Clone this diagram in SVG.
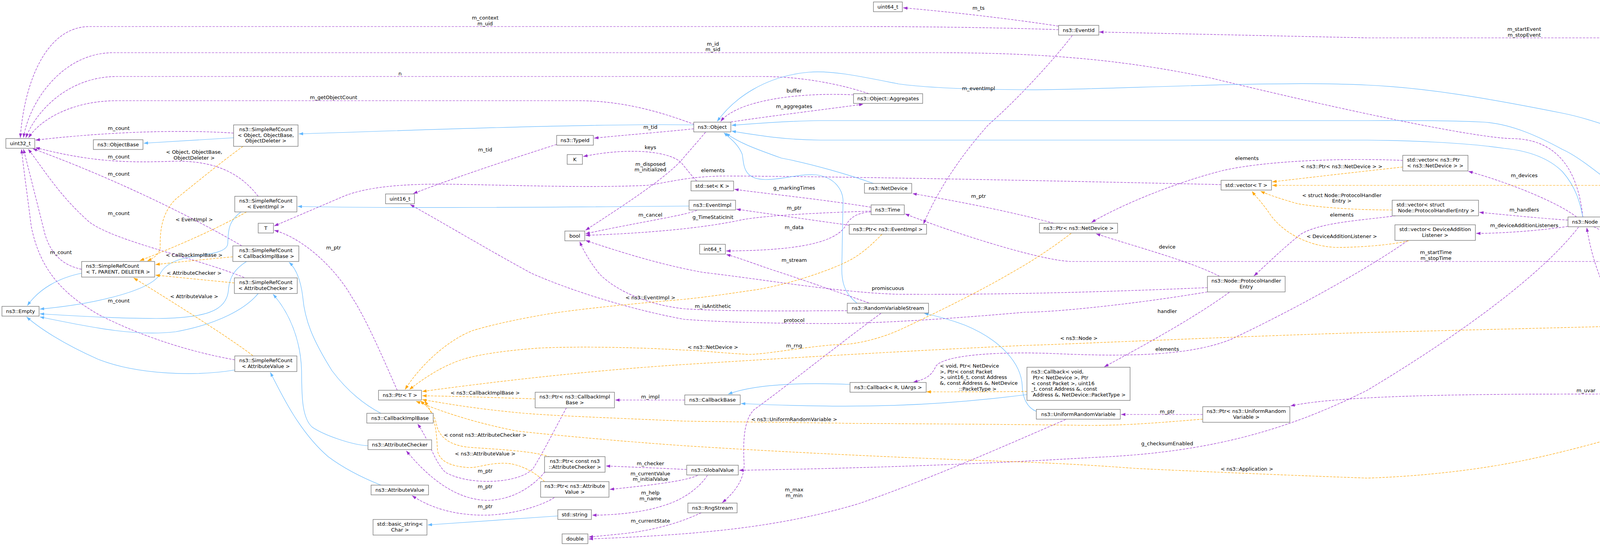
<svg xmlns="http://www.w3.org/2000/svg" width="5245" height="1399" viewBox="0 0 5245 1399">
<style>
text{font-family:"DejaVu Sans","Liberation Sans",sans-serif;font-size:13px;fill:#000}
.c{text-anchor:middle}
.node rect{fill:#fff;stroke:#666;stroke-width:1.2}
.node.hl rect{fill:#999}
.e path{fill:none;stroke-width:1.2}
.p{stroke:#9a32cd;stroke-dasharray:6,3}
.b{stroke:#63b8ff}
.o{stroke:#ffa500;stroke-dasharray:6,3}
</style>
<defs>
<marker id="ap" markerUnits="userSpaceOnUse" markerWidth="11" markerHeight="8" viewBox="0 0 11 8" refX="11" refY="4" orient="auto"><path d="M0,0 L11,4 L0,8 z" fill="#9a32cd"/></marker>
<marker id="ab" markerUnits="userSpaceOnUse" markerWidth="11" markerHeight="8" viewBox="0 0 11 8" refX="11" refY="4" orient="auto"><path d="M0,0 L11,4 L0,8 z" fill="#63b8ff"/></marker>
<marker id="ao" markerUnits="userSpaceOnUse" markerWidth="11" markerHeight="8" viewBox="0 0 11 8" refX="11" refY="4" orient="auto"><path d="M0,0 L11,4 L0,8 z" fill="#ffa500"/></marker>
</defs>
<rect width="5245" height="1399" fill="#fff"/>
<g id="connectors" class="e">
<g marker-end="url(#ap)">
<path class="p" d="M2710,76 C2600,72 2400,68 2200,68 L230,68 C110,68 60,230 52,353"/>
<path class="p" d="M4052,556 C4040,440 3990,356 3870,355 C3790,354 3500,297 3100,200 C2900,158 2700,135 2400,135 L290,135 C160,135 75,260 60,353"/>
<path class="p" d="M2224,240 C2150,215 2050,196 1950,196 L300,196 C170,196 90,290 66,353"/>
<path class="p" d="M1778,319 C1700,290 1600,258 1480,258 L300,258 C180,258 100,310 73,353"/>
<path class="p" d="M598,341 C480,333 300,335 91,359"/>
<path class="p" d="M661,503 C620,450 560,412 450,413 C350,416 250,420 91,378"/>
<path class="p" d="M619,630 C500,560 300,460 84,381"/>
<path class="p" d="M625,711 C500,660 300,620 230,570 C150,500 110,430 72,382"/>
<path class="p" d="M209,690 C160,680 130,650 115,600 C95,520 75,440 60,382"/>
<path class="p" d="M601,922 C450,895 330,845 260,810 C150,750 100,680 80,580 C70,500 60,430 55,382"/>
<path class="p" d="M1776,330 C1700,338 1600,346 1521,354"/>
<path class="p" d="M1425,370 C1300,410 1150,460 1058,496"/>
<path class="p" d="M1784,464 C1770,450 1755,430 1745,418 C1720,390 1620,375 1493,401"/>
<path class="p" d="M1806,339 C1780,370 1760,392 1745,410 C1700,460 1590,530 1499,590"/>
<path class="p" d="M1784,539 C1750,553 1620,572 1499,599"/>
<path class="p" d="M2230,541 C2100,545 1960,552 1900,563 C1800,585 1650,598 1499,603"/>
<path class="p" d="M3091,737 C2900,745 2600,756 2300,754 C2150,750 1950,715 1800,698 C1700,680 1600,650 1499,616"/>
<path class="p" d="M2169,796 C2000,797 1850,798 1750,791 C1650,780 1570,740 1533,700 C1510,670 1495,645 1484,619"/>
<path class="p" d="M3091,748 C2900,780 2700,800 2625,800 C2450,815 2250,830 2100,829 C1900,828 1800,822 1750,818 C1600,790 1450,740 1360,700 C1250,640 1150,580 1050,524"/>
<path class="p" d="M2224,776 C2150,750 2050,715 1973,690 C1920,672 1890,660 1859,652"/>
<path class="p" d="M2230,543 C2190,545 2175,560 2165,578 C2140,620 2050,642 1859,643"/>
<path class="p" d="M2230,531 C2100,510 1950,495 1880,485"/>
<path class="p" d="M2174,577 C2050,560 1950,545 1885,536"/>
<path class="p" d="M4524,670 L2740,670 C2660,666 2450,600 2317,548"/>
<path class="p" d="M2697,572 C2600,545 2450,515 2336,496"/>
<path class="p" d="M2745,91 C2700,150 2610,250 2530,320 C2450,410 2395,500 2364,574"/>
<path class="p" d="M4585,657 C4575,550 4560,420 4540,340 C4510,220 4470,140 4400,105 C4360,97 4330,97 4300,97 L3500,97 L2814,82"/>
<path class="p" d="M2710,67 C2600,50 2450,32 2312,20"/>
<path class="p" d="M1862,314 C1950,300 2100,282 2210,267"/>
<path class="p" d="M2185,243 C2080,238 1970,248 1900,275 C1870,288 1855,298 1845,311"/>
<path class="p" d="M3591,411 C3450,405 3250,410 3130,437 C3000,470 2860,530 2794,570"/>
<path class="p" d="M3573,553 C3480,565 3380,570 3330,600 C3280,640 3240,680 3210,707"/>
<path class="p" d="M3603,617 C3500,690 3300,800 3150,870 C3050,910 2900,915 2700,906 C2550,900 2410,910 2395,940 C2385,962 2370,972 2338,979"/>
<path class="p" d="M3147,749 C3050,820 2900,900 2827,940"/>
<path class="p" d="M3122,708 C3050,670 2900,630 2806,599"/>
<path class="p" d="M4036,556 C3990,520 3870,470 3759,439"/>
<path class="p" d="M4014,564 C3950,560 3850,550 3787,544"/>
<path class="p" d="M4014,580 C3950,590 3850,598 3779,598"/>
<path class="p" d="M4222,820 C4170,800 4120,770 4100,720 C4080,670 4070,630 4062,583"/>
<path class="p" d="M4514,833 L4386,833"/>
<path class="p" d="M4562,683 C4520,720 4430,770 4328,819"/>
<path class="p" d="M4080,581 C4200,640 4300,700 4420,725 C4550,752 4800,752 5067,705"/>
<path class="p" d="M4751,679 L4652,673"/>
<path class="p" d="M5069,684 L4957,684"/>
<path class="p" d="M4574,846 C4540,900 4470,960 4400,990 C4360,1005 4320,1009 4290,1009 L3900,1010 C3600,1012 3400,1020 3304,1040"/>
<path class="p" d="M3079,1062 L2870,1062"/>
<path class="p" d="M2728,1075 C2600,1130 2400,1220 2200,1290 C2000,1350 1800,1370 1507,1381"/>
<path class="p" d="M1795,1314 C1760,1330 1700,1355 1600,1367 C1560,1371 1530,1374 1507,1376"/>
<path class="p" d="M2255,803 C2150,880 2000,1000 1930,1050 C1900,1080 1903,1150 1905,1190 C1905,1230 1880,1262 1849,1288"/>
<path class="p" d="M4041,582 C3950,700 3750,850 3500,1000 C3300,1100 3100,1160 2800,1172 C2500,1190 2200,1200 1892,1205"/>
<path class="p" d="M1758,1203 C1700,1200 1600,1196 1551,1194"/>
<path class="p" d="M1786,1218 C1760,1230 1700,1240 1561,1254"/>
<path class="p" d="M1811,1218 C1790,1250 1750,1280 1700,1295 C1650,1312 1580,1320 1516,1320"/>
<path class="p" d="M1450,1045 C1420,1100 1390,1160 1365,1200 C1330,1240 1200,1245 1140,1210 C1110,1180 1100,1130 1069,1086"/>
<path class="p" d="M1395,1209 C1370,1240 1320,1280 1250,1282 C1180,1282 1110,1240 1040,1155"/>
<path class="p" d="M1419,1275 C1380,1300 1300,1320 1240,1320 C1160,1320 1100,1300 1055,1270"/>
<path class="p" d="M1753,1025 L1575,1025"/>
<path class="p" d="M1017,1000 C990,940 940,820 900,760 C860,690 780,612 702,590"/>
<path class="p" d="M3126,473 C2900,468 2200,452 1860,451 C1760,451 1700,470 1656,475 C1500,482 1300,474 1150,472 C1000,470 920,485 875,505 L702,579"/>
</g>
<g marker-end="url(#ab)">
<path class="b" d="M598,353 L368,367"/>
<path class="b" d="M1776,320 C1500,316 1000,336 765,343"/>
<path class="b" d="M1764,528 C1400,531 1000,534 762,529"/>
<path class="b" d="M209,700 C150,712 100,740 70,783"/>
<path class="b" d="M617,543 C580,570 585,600 583,625 C580,650 520,652 480,660 C430,670 415,690 408,705 C380,745 250,778 102,792"/>
<path class="b" d="M631,670 C600,690 588,710 585,740 C582,800 520,815 400,816 C300,816 200,810 102,804"/>
<path class="b" d="M661,752 C630,790 560,830 450,850 C350,862 250,842 102,812"/>
<path class="b" d="M601,948 C500,965 350,960 250,920 C160,880 100,840 68,812"/>
<path class="b" d="M975,1059 C920,1030 880,990 850,950 C800,870 780,820 775,760 C770,720 760,690 740,672"/>
<path class="b" d="M942,1142 C900,1140 830,1115 800,1095 C770,1070 773,1000 772,950 C770,870 740,800 699,754"/>
<path class="b" d="M975,1243 C930,1225 880,1200 840,1170 C770,1110 725,1020 692,954"/>
<path class="b" d="M1428,1322 L1095,1345"/>
<path class="b" d="M2176,985 C2050,980 1930,985 1864,1010"/>
<path class="b" d="M2629,1011 C2400,1040 2200,1048 1897,1034"/>
<path class="b" d="M2653,1054 C2630,1045 2618,1020 2617,990 C2615,930 2560,870 2470,833 C2430,818 2400,810 2366,803"/>
<path class="b" d="M2194,777 C2160,750 2155,720 2155,690 L2158,520 C2160,490 2140,455 2090,448 C2040,445 2010,460 1960,460 C1900,460 1905,420 1900,395 C1890,370 1870,355 1853,340"/>
<path class="b" d="M2236,470 C2180,450 2080,420 2000,405 C1930,380 1890,365 1858,341"/>
<path class="b" d="M4576,657 C4540,580 4470,480 4375,433 C4250,370 4100,310 4000,290 C3800,250 3650,225 3500,218 C3250,205 2800,232 2625,230 C2450,229 2350,222 2300,215 C2200,195 2130,180 2070,185 C1960,195 1880,250 1836,311"/>
<path class="b" d="M4554,820 C4500,790 4420,740 4375,700 C4300,630 4200,530 4170,504 C4100,450 4040,400 4000,383 C3940,350 3870,318 3800,313 C3700,308 3600,309 3500,309 L2100,309 C2000,310 1920,318 1873,321"/>
<path class="b" d="M4052,556 C4045,520 4035,480 4000,440 C3960,400 3900,385 3850,380 C3750,365 3600,360 3500,359 L2100,359 C2000,358 1930,345 1873,336"/>
</g>
<g marker-end="url(#ao)">
<path class="o" d="M622,375 C560,420 500,470 450,510 C410,550 410,600 410,635 C408,652 392,662 377,669"/>
<path class="o" d="M631,543 C550,590 430,640 358,668"/>
<path class="o" d="M596,658 C520,665 450,672 398,678"/>
<path class="o" d="M600,725 C520,717 450,710 398,705"/>
<path class="o" d="M647,911 C580,860 420,760 342,712"/>
<path class="o" d="M2258,600 C2220,640 2190,660 2169,670 C2120,695 2000,735 1917,745 C1850,755 1800,762 1750,767 C1600,780 1450,795 1377,809 C1300,823 1250,835 1210,847 C1150,870 1080,930 1037,998"/>
<path class="o" d="M2742,598 C2700,630 2650,665 2587,700 C2520,740 2400,800 2308,843 C2250,870 2180,885 2140,883 C2050,890 1960,908 1917,908 C1850,905 1800,898 1750,897 C1600,888 1450,888 1377,892 C1300,898 1250,905 1210,914 C1160,925 1110,950 1048,998"/>
<path class="o" d="M4217,834 L3500,852 C3300,858 3100,866 2960,872 C2800,878 2700,883 2625,885 C2400,895 2100,912 1750,934 C1500,950 1250,980 1081,1003"/>
<path class="o" d="M1370,1022 C1300,1020 1200,1016 1081,1014"/>
<path class="o" d="M3079,1074 C3000,1080 2900,1090 2792,1090 C2650,1088 2400,1086 2196,1085 C2000,1082 1800,1080 1750,1079 C1550,1070 1400,1065 1321,1057 C1200,1045 1150,1035 1081,1024"/>
<path class="o" d="M4839,697 C4800,760 4700,860 4621,914 C4550,960 4480,1000 4375,1043 C4250,1090 4050,1150 3890,1182 C3750,1210 3600,1222 3500,1225 C3300,1218 3000,1205 2904,1200 C2800,1192 2700,1187 2625,1184 C2300,1173 2000,1158 1750,1142 C1550,1128 1350,1108 1321,1104 C1200,1080 1120,1050 1065,1028"/>
<path class="o" d="M1408,1171 C1370,1155 1250,1150 1200,1146 C1140,1140 1122,1110 1118,1090 C1112,1060 1098,1045 1076,1027"/>
<path class="o" d="M1394,1234 C1370,1210 1330,1188 1293,1187 C1250,1186 1230,1198 1200,1198 C1150,1195 1125,1180 1120,1155 C1117,1100 1115,1070 1087,1027"/>
<path class="o" d="M3591,428 C3480,440 3350,455 3257,466"/>
<path class="o" d="M3564,538 C3500,538 3400,535 3322,522 C3280,510 3250,500 3227,490"/>
<path class="o" d="M5137,664 C5100,600 5050,530 4990,505 C4950,485 4900,475 4870,475 L3257,475"/>
<path class="o" d="M3606,617 C3560,628 3480,634 3420,634 C3340,630 3280,590 3252,550 C3232,520 3216,505 3205,490"/>
<path class="o" d="M2629,1003 C2550,1004 2450,1004 2372,1004"/>
</g>
<g id="edge-labels">
<text class="c" x="1242" y="50">m_context</text><text class="c" x="1242" y="65">m_uid</text>
<text class="c" x="1825" y="117">m_id</text><text class="c" x="1825" y="131">m_sid</text>
<text class="c" x="1024" y="193">n</text>
<text class="c" x="854" y="254">m_getObjectCount</text>
<text class="c" x="304" y="333">m_count</text>
<text class="c" x="304" y="406">m_count</text>
<text class="c" x="304" y="450">m_count</text>
<text class="c" x="304" y="551">m_count</text>
<text class="c" x="156" y="651">m_count</text>
<text class="c" x="304" y="775">m_count</text>
<text class="c" x="1665" y="330">m_tid</text>
<text class="c" x="1242" y="388">m_tid</text>
<text class="c" x="1665" y="382">keys</text>
<text class="c" x="1665" y="425">m_disposed</text><text class="c" x="1665" y="439">m_initialized</text>
<text class="c" x="1665" y="555">m_cancel</text>
<text class="c" x="1825" y="561">g_TimeStaticInit</text>
<text class="c" x="2273" y="743">promiscuous</text>
<text class="c" x="1825" y="789">m_isAntithetic</text>
<text class="c" x="2033" y="825">protocol</text>
<text class="c" x="2033" y="671">m_stream</text>
<text class="c" x="2033" y="587">m_data</text>
<text class="c" x="2033" y="486">g_markingTimes</text>
<text class="c" x="2033" y="537">m_ptr</text>
<text class="c" x="3676" y="651">m_startTime</text><text class="c" x="3676" y="666">m_stopTime</text>
<text class="c" x="2505" y="507">m_ptr</text>
<text class="c" x="2505" y="231">m_eventImpl</text>
<text class="c" x="3902" y="79">m_startEvent</text><text class="c" x="3902" y="94">m_stopEvent</text>
<text class="c" x="2505" y="25">m_ts</text>
<text class="c" x="2033" y="277">m_aggregates</text>
<text class="c" x="2033" y="237">buffer</text>
<text class="c" x="3192" y="410">elements</text>
<text class="c" x="3435" y="555">elements</text>
<text class="c" x="2988" y="899">elements</text>
<text class="c" x="2988" y="802">handler</text>
<text class="c" x="2988" y="637">device</text>
<text class="c" x="3902" y="454">m_devices</text>
<text class="c" x="3902" y="542">m_handlers</text>
<text class="c" x="3902" y="582">m_deviceAdditionListeners</text>
<text class="c" x="4147" y="761">m_ptr</text>
<text class="c" x="4463" y="828">m_node</text>
<text class="c" x="4463" y="723">m_node</text>
<text class="c" x="4588" y="739">m_applications</text>
<text class="c" x="4707" y="673">m_ptr</text>
<text class="c" x="5014" y="681">elements</text>
<text class="c" x="4060" y="1005">m_uvar</text>
<text class="c" x="2988" y="1059">m_ptr</text>
<text class="c" x="2033" y="1259">m_max</text><text class="c" x="2033" y="1274">m_min</text>
<text class="c" x="1665" y="1339">m_currentState</text>
<text class="c" x="2033" y="890">m_rng</text>
<text class="c" x="2988" y="1141">g_checksumEnabled</text>
<text class="c" x="1665" y="1192">m_checker</text>
<text class="c" x="1665" y="1218">m_currentValue</text><text class="c" x="1665" y="1232">m_initialValue</text>
<text class="c" x="1665" y="1267">m_help</text><text class="c" x="1665" y="1282">m_name</text>
<text class="c" x="1242" y="1211">m_ptr</text>
<text class="c" x="1242" y="1251">m_ptr</text>
<text class="c" x="1242" y="1302">m_ptr</text>
<text class="c" x="1665" y="1021">m_impl</text>
<text class="c" x="854" y="639">m_ptr</text>
<text class="c" x="1825" y="441">elements</text>
<text class="c" x="497" y="394">&lt; Object, ObjectBase,</text><text class="c" x="497" y="409">ObjectDeleter &gt;</text>
<text class="c" x="497" y="567">&lt; EventImpl &gt;</text>
<text class="c" x="497" y="658">&lt; CallbackImplBase &gt;</text>
<text class="c" x="497" y="704">&lt; AttributeChecker &gt;</text>
<text class="c" x="497" y="764">&lt; AttributeValue &gt;</text>
<text class="c" x="1665" y="767">&lt; ns3::EventImpl &gt;</text>
<text class="c" x="1825" y="894">&lt; ns3::NetDevice &gt;</text>
<text class="c" x="2762" y="871">&lt; ns3::Node &gt;</text>
<text class="c" x="1242" y="1011">&lt; ns3::CallbackImplBase &gt;</text>
<text class="c" x="2033" y="1079">&lt; ns3::UniformRandomVariable &gt;</text>
<text class="c" x="3192" y="1206">&lt; ns3::Application &gt;</text>
<text class="c" x="1242" y="1119">&lt; const ns3::AttributeChecker &gt;</text>
<text class="c" x="1242" y="1167">&lt; ns3::AttributeValue &gt;</text>
<text class="c" x="3434" y="431">&lt; ns3::Ptr&lt; ns3::NetDevice &gt; &gt;</text>
<text class="c" x="3435" y="505">&lt; struct Node::ProtocolHandler</text><text class="c" x="3435" y="519">Entry &gt;</text>
<text class="c" x="4302" y="471">&lt; ns3::Ptr&lt; ns3::Application &gt; &gt;</text>
<text class="c" x="3435" y="610">&lt; DeviceAdditionListener &gt;</text>
<text x="2406" y="942">&lt; void, Ptr&lt; NetDevice</text>
<text x="2406" y="957">&gt;, Ptr&lt; const Packet</text>
<text x="2406" y="971">&gt;, uint16_t, const Address</text>
<text x="2406" y="986">&amp;, const Address &amp;, NetDevice</text>
<text x="2455" y="1001">::PacketType &gt;</text>
</g>
</g>
<g id="nodes">
<g id="n_uint32" class="node"><rect x="15" y="355" width="74" height="25"/><text class="c" x="52" y="372">uint32_t</text></g>
<g id="n_objectbase" class="node"><rect x="239" y="358" width="127" height="25"/><text class="c" x="302.5" y="375">ns3::ObjectBase</text></g>
<g id="n_src_object" class="node"><rect x="598" y="320" width="165" height="55"/><text class="c" x="680.5" y="336">ns3::SimpleRefCount</text><text class="c" x="680.5" y="351">&lt; Object, ObjectBase,</text><text class="c" x="680.5" y="365">ObjectDeleter &gt;</text></g>
<g id="n_src_eventimpl" class="node"><rect x="601" y="503" width="159" height="40"/><text class="c" x="680.5" y="519">ns3::SimpleRefCount</text><text class="c" x="680.5" y="534">&lt; EventImpl &gt;</text></g>
<g id="n_T" class="node"><rect x="661" y="572" width="39" height="25"/><text class="c" x="680.5" y="589">T</text></g>
<g id="n_src_cbib" class="node"><rect x="596" y="630" width="169" height="40"/><text class="c" x="680.5" y="646">ns3::SimpleRefCount</text><text class="c" x="680.5" y="661">&lt; CallbackImplBase &gt;</text></g>
<g id="n_src_tpd" class="node"><rect x="209" y="670" width="187" height="40"/><text x="220" y="686">ns3::SimpleRefCount</text><text x="220" y="701">&lt; T, PARENT, DELETER &gt;</text></g>
<g id="n_empty" class="node"><rect x="5" y="785" width="95" height="25"/><text class="c" x="52.5" y="802">ns3::Empty</text></g>
<g id="n_src_ac" class="node"><rect x="600" y="712" width="161" height="40"/><text class="c" x="680.5" y="728">ns3::SimpleRefCount</text><text class="c" x="680.5" y="743">&lt; AttributeChecker &gt;</text></g>
<g id="n_src_av" class="node"><rect x="601" y="912" width="159" height="40"/><text class="c" x="680.5" y="928">ns3::SimpleRefCount</text><text class="c" x="680.5" y="943">&lt; AttributeValue &gt;</text></g>
<g id="n_typeid" class="node"><rect x="1425" y="347" width="94" height="25"/><text class="c" x="1472" y="364">ns3::TypeId</text></g>
<g id="n_K" class="node"><rect x="1452" y="396" width="39" height="25"/><text class="c" x="1471.5" y="413">K</text></g>
<g id="n_uint16" class="node"><rect x="987" y="497" width="74" height="25"/><text class="c" x="1024" y="514">uint16_t</text></g>
<g id="n_bool" class="node"><rect x="1446" y="592" width="51" height="25"/><text class="c" x="1471.5" y="609">bool</text></g>
<g id="n_ptrT" class="node"><rect x="969" y="1000" width="110" height="25"/><text class="c" x="1024" y="1017">ns3::Ptr&lt; T &gt;</text></g>
<g id="n_cbib" class="node"><rect x="939" y="1059" width="170" height="25"/><text class="c" x="1024" y="1076">ns3::CallbackImplBase</text></g>
<g id="n_ac" class="node"><rect x="942" y="1127" width="163" height="25"/><text class="c" x="1023.5" y="1144">ns3::AttributeChecker</text></g>
<g id="n_av" class="node"><rect x="950" y="1243" width="147" height="25"/><text class="c" x="1023.5" y="1260">ns3::AttributeValue</text></g>
<g id="n_basicstring" class="node"><rect x="955" y="1331" width="138" height="40"/><text class="c" x="1024" y="1347">std::basic_string&lt;</text><text class="c" x="1024" y="1362">Char &gt;</text></g>
<g id="n_ptr_cbib" class="node"><rect x="1370" y="1005" width="203" height="40"/><text class="c" x="1471.5" y="1021">ns3::Ptr&lt; ns3::CallbackImpl</text><text class="c" x="1471.5" y="1036">Base &gt;</text></g>
<g id="n_ptr_ac" class="node"><rect x="1394" y="1170" width="155" height="40"/><text class="c" x="1471.5" y="1186">ns3::Ptr&lt; const ns3</text><text class="c" x="1471.5" y="1201">::AttributeChecker &gt;</text></g>
<g id="n_ptr_av" class="node"><rect x="1384" y="1234" width="175" height="40"/><text class="c" x="1471.5" y="1250">ns3::Ptr&lt; ns3::Attribute</text><text class="c" x="1471.5" y="1265">Value &gt;</text></g>
<g id="n_string" class="node"><rect x="1428" y="1306" width="86" height="25"/><text class="c" x="1471" y="1323">std::string</text></g>
<g id="n_double" class="node"><rect x="1439" y="1368" width="66" height="25"/><text class="c" x="1472" y="1385">double</text></g>
<g id="n_uint64" class="node"><rect x="2236" y="5" width="74" height="25"/><text class="c" x="2273" y="22">uint64_t</text></g>
<g id="n_aggregates" class="node"><rect x="2185" y="240" width="177" height="25"/><text class="c" x="2273.5" y="257">ns3::Object::Aggregates</text></g>
<g id="n_object" class="node"><rect x="1776" y="313" width="95" height="25"/><text class="c" x="1823.5" y="330">ns3::Object</text></g>
<g id="n_setK" class="node"><rect x="1769" y="464" width="109" height="25"/><text class="c" x="1823.5" y="481">std::set&lt; K &gt;</text></g>
<g id="n_netdevice" class="node"><rect x="2213" y="470" width="121" height="25"/><text class="c" x="2273.5" y="487">ns3::NetDevice</text></g>
<g id="n_eventimpl" class="node"><rect x="1764" y="513" width="119" height="25"/><text class="c" x="1823.5" y="530">ns3::EventImpl</text></g>
<g id="n_time" class="node"><rect x="2230" y="525" width="85" height="25"/><text class="c" x="2272.5" y="542">ns3::Time</text></g>
<g id="n_ptr_eventimpl" class="node"><rect x="2174" y="575" width="198" height="25"/><text class="c" x="2273" y="592">ns3::Ptr&lt; ns3::EventImpl &gt;</text></g>
<g id="n_int64" class="node"><rect x="1791" y="626" width="66" height="25"/><text class="c" x="1824" y="643">int64_t</text></g>
<g id="n_rvs" class="node"><rect x="2169" y="777" width="208" height="25"/><text class="c" x="2273" y="794">ns3::RandomVariableStream</text></g>
<g id="n_callback_r" class="node"><rect x="2176" y="980" width="195" height="25"/><text class="c" x="2273.5" y="997">ns3::Callback&lt; R, UArgs &gt;</text></g>
<g id="n_callbackbase" class="node"><rect x="1753" y="1012" width="142" height="25"/><text class="c" x="1824" y="1029">ns3::CallbackBase</text></g>
<g id="n_globalvalue" class="node"><rect x="1758" y="1192" width="132" height="25"/><text class="c" x="1824" y="1209">ns3::GlobalValue</text></g>
<g id="n_rngstream" class="node"><rect x="1761" y="1289" width="126" height="25"/><text class="c" x="1824" y="1306">ns3::RngStream</text></g>
<g id="n_eventid" class="node"><rect x="2710" y="65" width="103" height="25"/><text class="c" x="2761.5" y="82">ns3::EventId</text></g>
<g id="n_vectorT" class="node"><rect x="3126" y="462" width="129" height="25"/><text class="c" x="3190.5" y="479">std::vector&lt; T &gt;</text></g>
<g id="n_ptr_netdevice" class="node"><rect x="2661" y="572" width="200" height="25"/><text class="c" x="2761" y="589">ns3::Ptr&lt; ns3::NetDevice &gt;</text></g>
<g id="n_phe" class="node"><rect x="3091" y="708" width="199" height="40"/><text class="c" x="3190.5" y="724">ns3::Node::ProtocolHandler</text><text class="c" x="3190.5" y="739">Entry</text></g>
<g id="n_callback_void" class="node"><rect x="2629" y="941" width="264" height="85"/><text x="2640" y="957">ns3::Callback&lt; void,</text><text x="2644" y="972">Ptr&lt; NetDevice &gt;, Ptr</text><text x="2640" y="987">&lt; const Packet &gt;, uint16</text><text x="2640" y="1001">_t, const Address &amp;, const</text><text x="2644" y="1016">Address &amp;, NetDevice::PacketType &gt;</text></g>
<g id="n_urv" class="node"><rect x="2653" y="1049" width="215" height="25"/><text class="c" x="2760.5" y="1066">ns3::UniformRandomVariable</text></g>
<g id="n_ptr_urv" class="node"><rect x="3079" y="1042" width="223" height="40"/><text class="c" x="3190.5" y="1058">ns3::Ptr&lt; ns3::UniformRandom</text><text class="c" x="3190.5" y="1073">Variable &gt;</text></g>
<g id="n_vec_ptr_nd" class="node"><rect x="3591" y="398" width="167" height="40"/><text x="3602" y="414">std::vector&lt; ns3::Ptr</text><text x="3602" y="429">&lt; ns3::NetDevice &gt; &gt;</text></g>
<g id="n_vec_phe" class="node"><rect x="3564" y="513" width="221" height="40"/><text x="3575" y="529">std::vector&lt; struct</text><text x="3579" y="544">Node::ProtocolHandlerEntry &gt;</text></g>
<g id="n_vec_dal" class="node"><rect x="3571" y="576" width="206" height="40"/><text class="c" x="3674" y="592">std::vector&lt; DeviceAddition</text><text class="c" x="3674" y="607">Listener &gt;</text></g>
<g id="n_node" class="node"><rect x="4014" y="556" width="87" height="25"/><text class="c" x="4057.5" y="573">ns3::Node</text></g>
<g id="n_ptr_node" class="node"><rect x="4217" y="820" width="167" height="25"/><text class="c" x="4300.5" y="837">ns3::Ptr&lt; ns3::Node &gt;</text></g>
<g id="n_application" class="node"><rect x="4524" y="657" width="126" height="25"/><text class="c" x="4587" y="674">ns3::Application</text></g>
<g id="n_ptr_app" class="node"><rect x="4751" y="672" width="205" height="25"/><text class="c" x="4853.5" y="689">ns3::Ptr&lt; ns3::Application &gt;</text></g>
<g id="n_vec_ptr_app" class="node"><rect x="5069" y="664" width="172" height="40"/><text x="5080" y="680">std::vector&lt; ns3::Ptr</text><text x="5080" y="695">&lt; ns3::Application &gt; &gt;</text></g>
<g id="n_ipv6extension" class="node hl"><rect x="4515" y="820" width="145" height="25"/><text class="c" x="4587.5" y="837">ns3::Ipv6Extension</text></g>
</g>
</svg>
